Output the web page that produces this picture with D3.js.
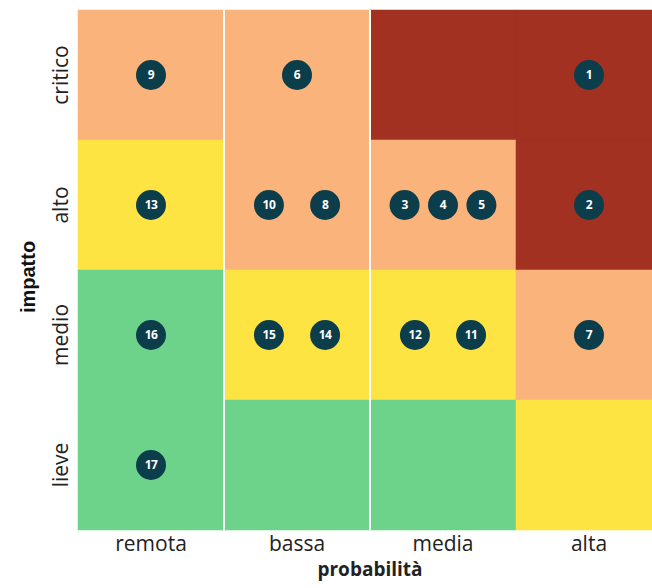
<!DOCTYPE html>
<html>
<head>
<meta charset="utf-8">
<script src="https://cdn.jsdelivr.net/npm/d3@7/dist/d3.min.js"></script>
<style>
  html, body { margin: 0; padding: 0; background: #fff; }
  svg { display: block; }
</style>
</head>
<body>
<div id="chart"></div>
<script>
// ---- data ----
const probabilita = ["remota", "bassa", "media", "alta"];
const impatto = ["critico", "alto", "medio", "lieve"];
// risk level of each cell, rows = impatto (top to bottom), cols = probabilita
const cellLevels = [
  ["med", "med", "high", "high"],
  ["low", "med", "med", "high"],
  ["min", "low", "low", "med"],
  ["min", "min", "min", "low"]
];
const levelNames = ["min", "low", "med", "high"];
const levelColors = ["#6dd38b", "#fee442", "#fbb37c", "#a23121"];
// risks: id, probabilita, impatto (order within cell = left to right)
const riskIds   = [9, 6, 1, 13, 10, 8, 3, 4, 5, 2, 16, 15, 14, 12, 11, 7, 17];
const riskProb  = ["remota","bassa","alta","remota","bassa","bassa","media","media","media","alta","remota","bassa","bassa","media","media","alta","remota"];
const riskImp   = ["critico","critico","critico","alto","alto","alto","alto","alto","alto","alto","medio","medio","medio","medio","medio","medio","lieve"];

// ---- layout ----
const W = 652, H = 588;
const margin = { left: 78, top: 10, right: -10, bottom: 58 };
const svg = d3.select("#chart").append("svg").attr("width", W).attr("height", H);

const x = d3.scaleBand().domain(probabilita).range([margin.left, W - margin.right]);
const y = d3.scaleBand().domain(impatto).range([margin.top, H - margin.bottom]);
const color = d3.scaleOrdinal().domain(levelNames).range(levelColors);

const cells = [];
impatto.forEach((imp, i) => probabilita.forEach((p, j) => cells.push({ imp, p, level: cellLevels[i][j] })));

svg.append("g").selectAll("rect").data(cells).join("rect")
  .attr("x", d => x(d.p)).attr("y", d => y(d.imp))
  .attr("width", x.bandwidth()).attr("height", y.bandwidth())
  .attr("fill", d => color(d.level))
  .attr("stroke", d => color(d.level)).attr("stroke-width", 0.5);

// white separators
svg.append("g").selectAll("line").data(["bassa", "media"]).join("line")
  .attr("x1", d => x(d)).attr("x2", d => x(d))
  .attr("y1", margin.top).attr("y2", H - margin.bottom)
  .attr("stroke", "#fff").attr("stroke-width", 2);

// axes
const xAxis = svg.append("g").attr("transform", `translate(0,${H - margin.bottom})`)
  .call(d3.axisBottom(x).tickSize(0).tickPadding(6));
xAxis.select(".domain").remove();
xAxis.selectAll("text").attr("font-family", "'Open Sans', sans-serif").attr("font-size", 21).attr("fill", "#222");

const yAxis = svg.append("g").attr("transform", `translate(${margin.left},0)`)
  .call(d3.axisLeft(y).tickSize(0).tickPadding(0));
yAxis.select(".domain").remove();
yAxis.selectAll("text")
  .attr("font-family", "'Open Sans', sans-serif").attr("font-size", 21).attr("fill", "#222")
  .attr("text-anchor", "middle").attr("transform", "rotate(-90)")
  .attr("x", 0).attr("y", -10).attr("dy", 0);

svg.append("text").attr("x", 370).attr("y", 576).attr("text-anchor", "middle")
  .attr("font-family", "'Open Sans', sans-serif").attr("font-weight", "bold").attr("font-size", 19)
  .attr("fill", "#222").text("probabilità");

svg.append("text").attr("transform", "translate(35,277) rotate(-90)").attr("text-anchor", "middle")
  .attr("font-family", "'Liberation Sans', Arial, sans-serif").attr("font-weight", "bold").attr("font-size", 20)
  .attr("fill", "#111").text("impatto");

// risks
const risks = riskIds.map((id, i) => ({ id, p: riskProb[i], imp: riskImp[i] }));
const groups = d3.group(risks, d => d.p + "|" + d.imp);
groups.forEach(list => {
  const inner = d3.scalePoint().domain(list.map(d => d.id))
    .range([-x.bandwidth() / 2, x.bandwidth() / 2]).padding(list.length === 2 ? 0.8 : 0.9);
  list.forEach(d => { d.cx = x(d.p) + x.bandwidth() / 2 + (list.length > 1 ? inner(d.id) : 0); d.cy = y(d.imp) + y.bandwidth() / 2; });
});

const pts = svg.append("g").selectAll("g").data(risks).join("g")
  .attr("transform", d => `translate(${d.cx},${d.cy})`);
pts.append("circle").attr("r", 15).attr("fill", "#0c3d4a");
pts.append("text").attr("text-anchor", "middle").attr("dy", "0.36em")
  .attr("font-family", "'Open Sans', sans-serif").attr("font-weight", "bold").attr("font-size", 12)
  .attr("fill", "#fff").attr("letter-spacing", -0.5).text(d => d.id);
</script>
</body>
</html>
